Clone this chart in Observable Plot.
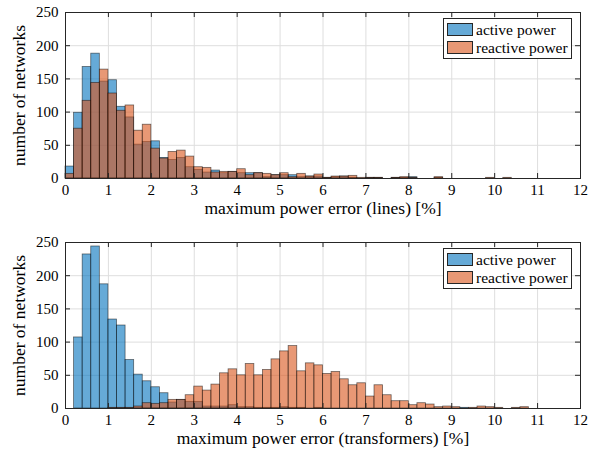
<!DOCTYPE html>
<html>
<head>
<meta charset="utf-8">
<script src="https://cdn.jsdelivr.net/npm/d3@7"></script>
<script src="https://cdn.jsdelivr.net/npm/@observablehq/plot@0.6"></script>
<style>
  body { margin: 0; background: #fff; }
  #wrap { width: 598px; height: 460px; }
  .panel { position: relative; width: 598px; height: 230px; }
  .panel svg { display: block; font-family: "Liberation Serif", "Times New Roman", "DejaVu Serif", serif !important; }
  .panel svg text { font-family: "Liberation Serif", "Times New Roman", "DejaVu Serif", serif !important; }
  .legend {
    position: absolute; left: 443px; top: 18px; width: 129px; height: 41px;
    border: 1px solid #262626; background: #fff; box-sizing: border-box;
    font-family: "Liberation Serif", "Times New Roman", "DejaVu Serif", serif; font-size: 15.5px; color: #000;
  }
  .row { position: absolute; left: 3px; height: 14px; line-height: 14px; white-space: nowrap; }
  .sw { display: inline-block; width: 26px; height: 13px; border: 1px solid #262626; vertical-align: top; box-sizing: border-box; margin-right: 3px; }
</style>
</head>
<body>
<div id="wrap"></div>
<script>
// ---- data ----
const binWidth = 0.2;
const xTicks = [0,1,2,3,4,5,6,7,8,9,10,11,12];
const yTicks = [0,50,100,150,200,250];
const seriesNames = ["active power", "reactive power"];
const xLabels = ["maximum power error (lines) [%]", "maximum power error (transformers) [%]"];
const yLabel = "number of networks";

const linesActive = [18,99,168,188,146,148,108,92,51,55,56,31,28,31,17,13,9,12,8,10,
  8,8,8,2,5,5,5,2,3,3,1,2,3,1,0,1,1,0,1,1,2,0,0,1,0,0,0,0,0,0,
  0,0,0,0,0,0,0,0,0,0];
const linesReactive = [7,75,117,144,164,128,102,110,72,81,45,30,40,42,33,17,16,9,10,10,
  14,5,8,7,5,8,2,7,3,6,1,3,3,4,1,1,1,0,1,2,1,0,0,2,0,0,0,0,0,1,
  0,1,0,0,0,0,0,0,0,0];
const trafoActive = [0,107,232,244,187,134,125,73,51,41,32,23,9,13,10,10,3,3,3,5,
  2,2,1,1,1,2,1,1,0,1,0,0,0,0,0,0,0,0,0,0,0,0,0,0,0,0,1,0,0,0,
  0,0,0,0,0,0,0,0,0,0];
const trafoReactive = [0,0,0,0,0,1,1,1,3,8,7,8,13,13,20,33,27,36,53,59,
  50,67,50,58,74,86,94,56,68,65,52,55,44,35,38,18,35,20,11,11,5,8,6,2,3,2,0,1,3,2,
  1,0,1,2,0,0,0,0,0,0];

const colors = ["#0072BD", "#D95319"];
const ink = "#262626";

function toBins(values, series) {
  return values.map((v, i) => ({
    x1: +(i * binWidth).toFixed(1),
    x2: +((i + 1) * binWidth).toFixed(1),
    count: v,
    series
  }));
}

function panel(active, reactive, xLabel) {
  const W = 598, H = 230, mt = 12, mb = 52, ml = 65, mr = 18;
  const frameH = H - mt - mb, frameW = W - ml - mr;
  const tickLen = 5;
  const barStyle = {x1: "x1", x2: "x2", y: "count", inset: 0,
    fillOpacity: 0.6, stroke: "#000", strokeOpacity: 0.55, strokeWidth: 0.8};
  const svg = Plot.plot({
    width: W, height: H,
    marginTop: mt, marginBottom: mb, marginLeft: ml, marginRight: mr,
    style: {fontSize: "15px", color: ink, background: "#fff"},
    x: {domain: [0, 12], ticks: xTicks},
    y: {domain: [0, 250], ticks: yTicks},
    marks: [
      Plot.ruleX(xTicks, {x: d => d, stroke: "#dedede", strokeWidth: 1}),
      Plot.ruleY(yTicks, {y: d => d, stroke: "#dedede", strokeWidth: 1}),
      Plot.rectY(toBins(active, seriesNames[0]), {...barStyle, fill: colors[0]}),
      Plot.rectY(toBins(reactive, seriesNames[1]), {...barStyle, fill: colors[1]}),
      Plot.frame({stroke: ink, strokeWidth: 1}),
      Plot.tickX(xTicks, {x: d => d, stroke: ink, insetTop: frameH - tickLen}),
      Plot.tickX(xTicks, {x: d => d, stroke: ink, insetBottom: frameH - tickLen}),
      Plot.tickY(yTicks, {y: d => d, stroke: ink, insetRight: frameW - tickLen}),
      Plot.tickY(yTicks, {y: d => d, stroke: ink, insetLeft: frameW - tickLen}),
      Plot.axisX(xTicks, {tickSize: 0, tickPadding: 6, label: null, fill: "#000"}),
      Plot.axisY(yTicks, {tickSize: 0, tickPadding: 7, label: null, fill: "#000"}),
      Plot.text([xLabel], {frameAnchor: "bottom", dy: 35, fontSize: 17.5, fill: "#000"}),
      Plot.text([yLabel], {frameAnchor: "left", dx: -46, rotate: -90, textAnchor: "middle", fontSize: 17.5, fill: "#000"})
    ]
  });
  const div = document.createElement("div");
  div.className = "panel";
  div.appendChild(svg);
  const leg = document.createElement("div");
  leg.className = "legend";
  seriesNames.forEach((name, i) => {
    const row = document.createElement("div");
    row.className = "row";
    row.style.top = (i === 0 ? 4 : 22) + "px";
    const sw = document.createElement("span");
    sw.className = "sw";
    sw.style.background = d3.color(colors[i]).copy({opacity: 0.6}).toString();
    row.appendChild(sw);
    row.appendChild(document.createTextNode(name));
    leg.appendChild(row);
  });
  div.appendChild(leg);
  return div;
}

const wrap = document.getElementById("wrap");
wrap.appendChild(panel(linesActive, linesReactive, xLabels[0]));
wrap.appendChild(panel(trafoActive, trafoReactive, xLabels[1]));
</script>
</body>
</html>
